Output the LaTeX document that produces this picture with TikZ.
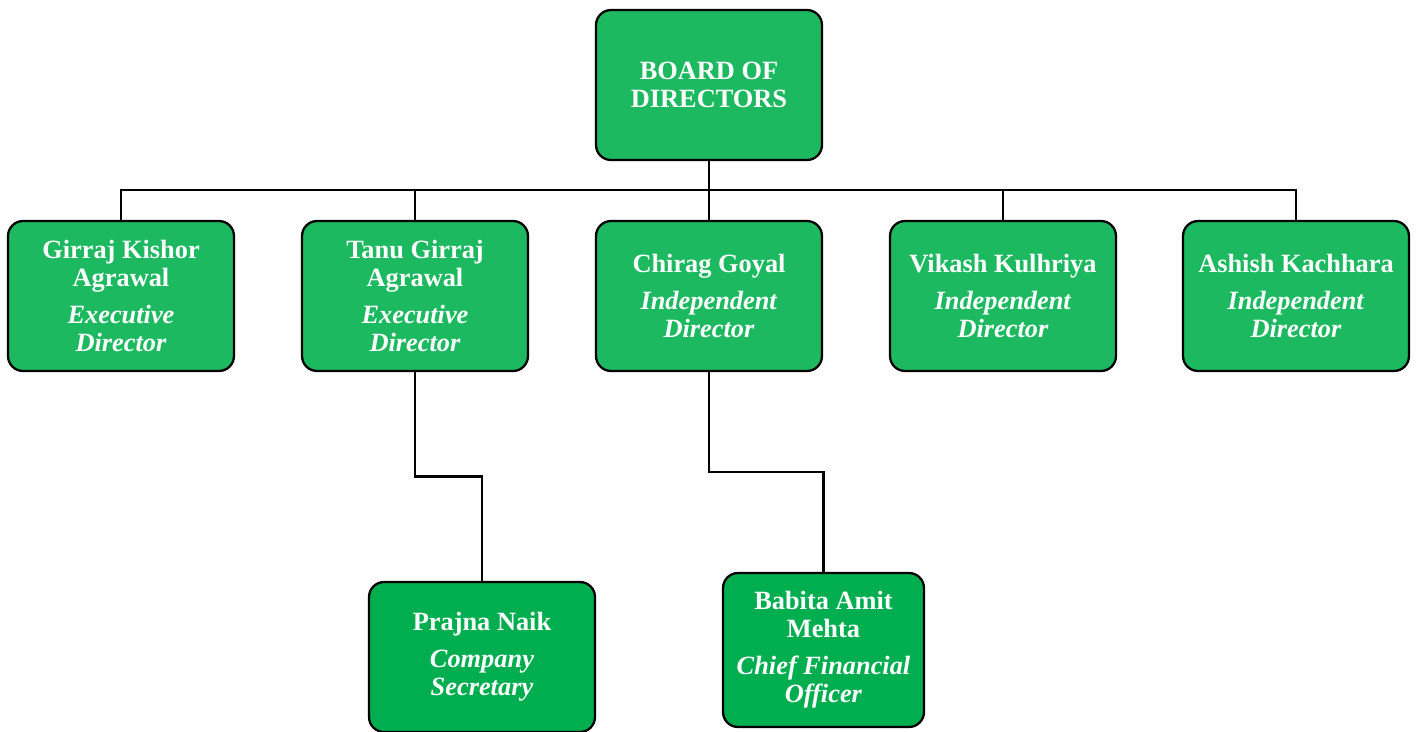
\documentclass[tikz,border=0pt]{standalone}
\usepackage{fontspec}
\setmainfont{Liberation Serif}
\usepackage{tikz}
\usetikzlibrary{calc}
\definecolor{boardgreen}{RGB}{29, 185, 96}
\definecolor{staffgreen}{RGB}{0, 173, 79}

\begin{document}
\begin{tikzpicture}[x=0.02cm,y=-0.02cm,
    orgbox/.style={draw=black,line width=1.3pt,rounded corners=0.3cm,fill=boardgreen,
        text=white,align=center,minimum width=4.52cm,minimum height=3cm,
        font=\fontsize{15}{16}\selectfont\bfseries},
    staffbox/.style={orgbox,fill=staffgreen},
    link/.style={line width=1.3pt}]
                \useasboundingbox (0,0) rectangle (1419,731);

                \node[orgbox] (board) at (709,85) {BOARD OF\\DIRECTORS};

                \node[orgbox] (girraj) at (121,296) {Girraj Kishor\\Agrawal\\[5pt]\textit{Executive}\\\textit{Director}};
                \node[orgbox] (tanu) at (415,296) {Tanu Girraj\\Agrawal\\[5pt]\textit{Executive}\\\textit{Director}};
                \node[orgbox] (chirag) at (709,296) {Chirag Goyal\\[5pt]\textit{Independent}\\\textit{Director}};
                \node[orgbox] (vikash) at (1003,296) {Vikash Kulhriya\\[5pt]\textit{Independent}\\\textit{Director}};
                \node[orgbox] (ashish) at (1296,296) {Ashish Kachhara\\[5pt]\textit{Independent}\\\textit{Director}};

                \node[staffbox] (prajna) at (482,657) {Prajna Naik\\[5pt]\textit{Company}\\\textit{Secretary}};
                \node[staffbox,minimum width=4.02cm,minimum height=3.08cm] (babita) at (823.5,650) {Babita Amit\\Mehta\\[5pt]\textit{Chief Financial}\\\textit{Officer}};

                % bus under the board
                \coordinate (bus) at (1296,190);
                \draw[link] (board.south) -- (chirag.north);
                \draw[link] (girraj.north) |- (bus) -- (ashish.north);
                \draw[link] (tanu.north) -- (tanu.north |- bus);
                \draw[link] (vikash.north) -- (vikash.north |- bus);

                % officers
                \draw[link] (tanu.south) |- ($(tanu.south)!0.5!(prajna.north)$) -| (prajna.north);
                \draw[link] (chirag.south) |- ($(chirag.south)!0.5!(babita.north)$) -| (babita.north);
            \end{tikzpicture}
\end{document}
